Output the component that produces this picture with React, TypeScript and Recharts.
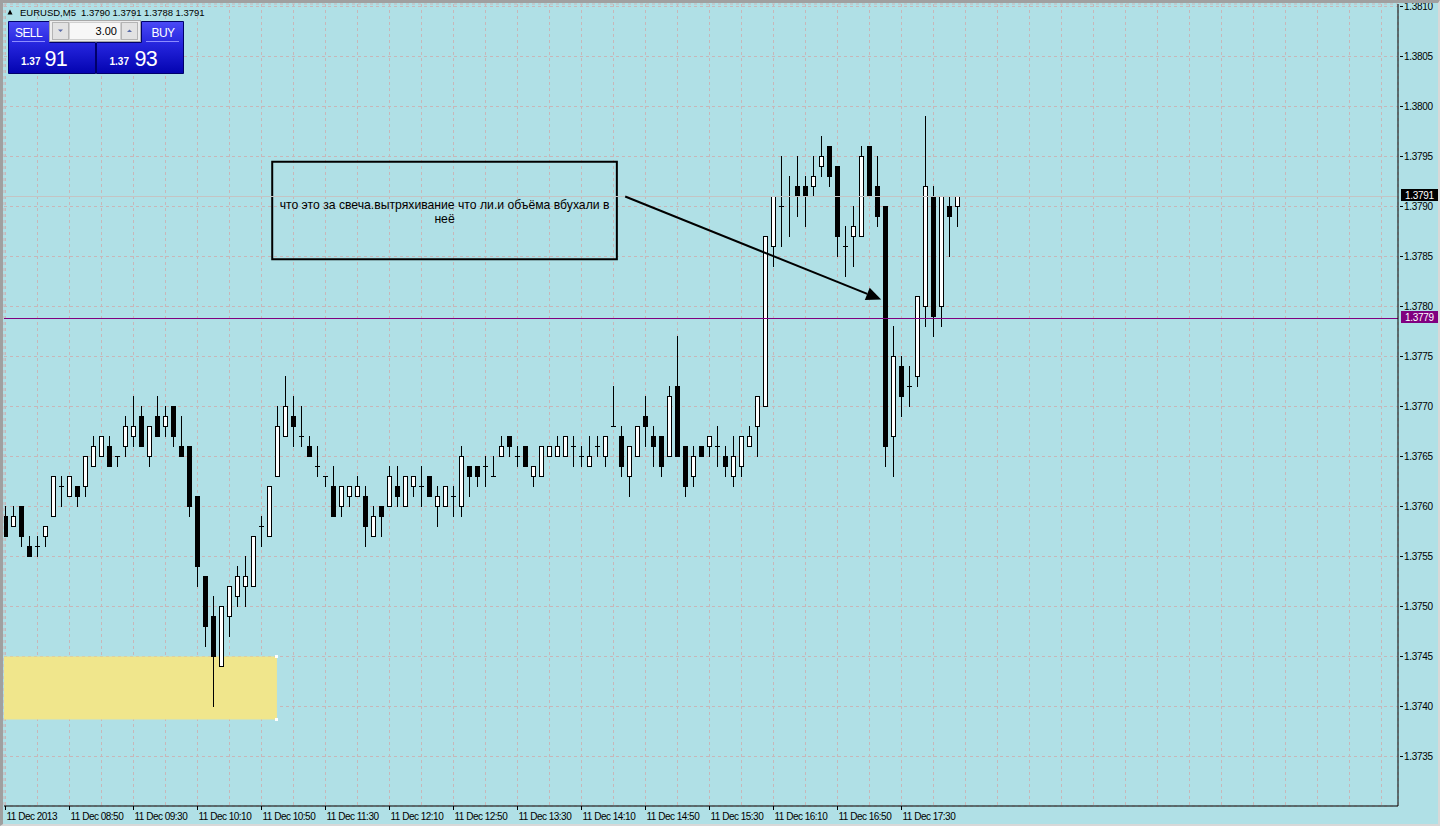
import React from 'react';
import {
  ComposedChart,
  Bar,
  XAxis,
  YAxis,
  CartesianGrid,
  ReferenceLine,
  ReferenceArea,
  ReferenceDot,
} from 'recharts';

// EURUSD M5, 11 Dec 2013, bars from 08:10 onwards
const openPrices = [
  1.3759, 1.3758, 1.376, 1.3756, 1.3756, 1.3757, 1.3759, 1.3762, 1.3761, 1.3762,
  1.3762, 1.3764, 1.3765, 1.3766, 1.3765, 1.3766, 1.3767, 1.3769, 1.3765, 1.3769,
  1.3768, 1.377, 1.3766, 1.3766, 1.3761, 1.3753, 1.3749, 1.3744, 1.3749, 1.3751,
  1.3752, 1.3752, 1.3758, 1.3757, 1.3763, 1.3767, 1.3769, 1.3767, 1.3766, 1.3764,
  1.3763, 1.3762, 1.376, 1.3761, 1.3761, 1.3761, 1.3757, 1.376, 1.376, 1.3762,
  1.376, 1.3762, 1.3762, 1.3763, 1.376, 1.376, 1.3761, 1.376, 1.3764, 1.3764,
  1.3764, 1.3763, 1.3765, 1.3767, 1.3765, 1.3766, 1.3763, 1.3763, 1.3765, 1.3765,
  1.3765, 1.3766, 1.3765, 1.3764, 1.3766, 1.3765, 1.3768, 1.3767, 1.3763, 1.3765,
  1.3769, 1.3767, 1.3767, 1.3765, 1.3772, 1.3766, 1.3763, 1.3766, 1.3766, 1.3766,
  1.3765, 1.3763, 1.3764, 1.3766, 1.3768, 1.377, 1.3786, 1.379, 1.3791, 1.3792,
  1.3792, 1.3792, 1.3794, 1.3796, 1.3794, 1.3786, 1.3787, 1.3787, 1.3796, 1.3792,
  1.379, 1.3767, 1.3774, 1.3772, 1.3773, 1.378, 1.3791, 1.378, 1.379, 1.379,
];

const highPrices = [
  1.376, 1.376, 1.376, 1.3757, 1.3757, 1.3758, 1.3763, 1.3763, 1.3763, 1.3762,
  1.3765, 1.3767, 1.3767, 1.3767, 1.3765, 1.3769, 1.3771, 1.377, 1.3768, 1.3771,
  1.377, 1.377, 1.3769, 1.3766, 1.3761, 1.3753, 1.3751, 1.375, 1.3752, 1.3754,
  1.3755, 1.3757, 1.3759, 1.3762, 1.377, 1.3773, 1.3771, 1.377, 1.3767, 1.3766,
  1.3763, 1.3764, 1.3762, 1.3762, 1.3763, 1.3762, 1.376, 1.376, 1.3764, 1.3764,
  1.3763, 1.3763, 1.3764, 1.3763, 1.3762, 1.3762, 1.3762, 1.3766, 1.3764, 1.3764,
  1.3765, 1.3765, 1.3767, 1.3767, 1.3766, 1.3766, 1.3764, 1.3766, 1.3766, 1.3767,
  1.3767, 1.3767, 1.3766, 1.3767, 1.3767, 1.3767, 1.3772, 1.3768, 1.3766, 1.3768,
  1.3771, 1.3768, 1.3767, 1.3772, 1.3777, 1.3766, 1.3766, 1.3766, 1.3767, 1.3768,
  1.3766, 1.3767, 1.3767, 1.3768, 1.3771, 1.3787, 1.3791, 1.3795, 1.3793, 1.3795,
  1.3793, 1.3795, 1.3797, 1.3796, 1.3794, 1.3788, 1.379, 1.3796, 1.3796, 1.3795,
  1.379, 1.3778, 1.3775, 1.3774, 1.3781, 1.3799, 1.3792, 1.3791, 1.3791, 1.3791,
];

const lowPrices = [
  1.3757, 1.3758, 1.3756, 1.3755, 1.3755, 1.3756, 1.3759, 1.376, 1.3761, 1.376,
  1.3761, 1.3764, 1.3765, 1.3764, 1.3764, 1.3765, 1.3766, 1.3766, 1.3764, 1.3767,
  1.3767, 1.3766, 1.3765, 1.3759, 1.3752, 1.3746, 1.374, 1.3744, 1.3747, 1.375,
  1.375, 1.3752, 1.3756, 1.3757, 1.3763, 1.3767, 1.3766, 1.3766, 1.3765, 1.3763,
  1.3762, 1.3759, 1.3759, 1.376, 1.3761, 1.3756, 1.3757, 1.3757, 1.376, 1.376,
  1.376, 1.3761, 1.376, 1.3761, 1.3758, 1.376, 1.3759, 1.3759, 1.3761, 1.3762,
  1.3762, 1.3763, 1.3765, 1.3765, 1.3764, 1.3764, 1.3762, 1.3763, 1.3765, 1.3765,
  1.3765, 1.3764, 1.3764, 1.3764, 1.3765, 1.3764, 1.3768, 1.3763, 1.3761, 1.3765,
  1.3766, 1.3764, 1.3763, 1.3765, 1.3765, 1.3761, 1.3762, 1.3765, 1.3765, 1.3764,
  1.3763, 1.3762, 1.3763, 1.3766, 1.3765, 1.377, 1.3784, 1.3786, 1.3787, 1.3789,
  1.3788, 1.3791, 1.3793, 1.3792, 1.3785, 1.3783, 1.3784, 1.3787, 1.3791, 1.3788,
  1.3764, 1.3763, 1.3769, 1.377, 1.3772, 1.3778, 1.3777, 1.3778, 1.3785, 1.3788,
];

const closePrices = [
  1.3757, 1.3759, 1.3757, 1.3755, 1.3756, 1.3758, 1.3763, 1.3762, 1.3763, 1.3761,
  1.3765, 1.3766, 1.3767, 1.3764, 1.3765, 1.3768, 1.3768, 1.3766, 1.3768, 1.3767,
  1.3769, 1.3767, 1.3765, 1.376, 1.3754, 1.3748, 1.3745, 1.375, 1.3752, 1.3753,
  1.3753, 1.3757, 1.3758, 1.3762, 1.3768, 1.377, 1.3768, 1.3767, 1.3765, 1.3764,
  1.3763, 1.3759, 1.3762, 1.3762, 1.3762, 1.3758, 1.3759, 1.3759, 1.3763, 1.3761,
  1.3763, 1.3763, 1.3762, 1.3761, 1.3761, 1.3762, 1.3761, 1.3765, 1.3763, 1.3763,
  1.3764, 1.3763, 1.3766, 1.3766, 1.3765, 1.3764, 1.3764, 1.3766, 1.3766, 1.3766,
  1.3767, 1.3766, 1.3765, 1.3765, 1.3766, 1.3767, 1.3768, 1.3764, 1.3766, 1.3768,
  1.3768, 1.3766, 1.3764, 1.3771, 1.3765, 1.3762, 1.3765, 1.3765, 1.3767, 1.3766,
  1.3764, 1.3765, 1.3767, 1.3767, 1.3771, 1.3787, 1.3791, 1.379, 1.3791, 1.3791,
  1.3791, 1.3793, 1.3795, 1.3793, 1.3787, 1.3786, 1.3788, 1.3795, 1.3791, 1.3789,
  1.3766, 1.3775, 1.3771, 1.3772, 1.3781, 1.3792, 1.3779, 1.3791, 1.3789, 1.3791,
];

// one label every 8 bars (40 minutes)
const timeLabels = [
  '11 Dec 2013', '11 Dec 08:50', '11 Dec 09:30', '11 Dec 10:10', '11 Dec 10:50',
  '11 Dec 11:30', '11 Dec 12:10', '11 Dec 12:50', '11 Dec 13:30', '11 Dec 14:10',
  '11 Dec 14:50', '11 Dec 15:30', '11 Dec 16:10', '11 Dec 16:50', '11 Dec 17:30',
];

const priceTicks = [
  1.3735, 1.374, 1.3745, 1.375, 1.3755, 1.376, 1.3765, 1.377, 1.3775, 1.378,
  1.3785, 1.379, 1.3795, 1.38, 1.3805, 1.381,
];

const headerQuotes = ['1.3790', '1.3791', '1.3788', '1.3791'];
const bidPrice = 1.3791;
const levelPrice = 1.37788;

// khaki support zone and the annotation with its arrow
const zoneTop = 1.3745;
const zoneBottom = 1.37387;
const zoneEndBar = 33.93;
const noteLines = ['что это за свеча.вытряхивание что ли.и объёма вбухали в', 'неё'];
const noteLeftBar = 33.34;
const noteRightBar = 76.42;
const noteTop = 1.379447;
const noteBottom = 1.378472;
const arrowFrom = { x: 77.46, y: 1.3791 };
const arrowTo = { x: 109.46, y: 1.37807 };

// 8 px per bar, 10 px per pip
const xDomain: [number, number] = [-0.1875, 174.0625];
const yDomain: [number, number] = [1.373005, 1.381025];
const gridBarTicks = Array.from({ length: 44 }, (_, i) => i * 4);

const candles = openPrices.map((open, i) => ({
  bar: i,
  open,
  high: highPrices[i],
  low: lowPrices[i],
  close: closePrices[i],
  range: [lowPrices[i], highPrices[i]],
}));

const FONT = '"Liberation Sans", Arial, sans-serif';
const BG = '#b0e0e6';

const Candle = (props: any) => {
  const { x, y, width, height, payload } = props;
  if (!payload || x == null || y == null) return <g />;
  const { open, high, low, close } = payload;
  const span = high - low;
  const k = span > 0 ? height / span : 0;
  const py = (v: number) => y + (high - v) * k;
  const snap = (v: number) => Math.floor(py(v) + 0.01) + 0.5;
  const cx = Math.floor(x + width / 2) + 0.5;
  const yH = snap(high);
  const yL = snap(low);
  const top = snap(Math.max(open, close));
  const bot = snap(Math.min(open, close));
  const up = close >= open;
  return (
    <g>
      <line x1={cx} x2={cx} y1={yH - 0.5} y2={yL + 0.5} stroke="#000" strokeWidth={1} />
      {bot - top < 1 ? (
        <line x1={cx - 2.5} x2={cx + 2.5} y1={top} y2={top} stroke="#000" strokeWidth={1} />
      ) : (
        <rect
          x={cx - 2}
          y={top}
          width={4}
          height={bot - top}
          fill={up ? '#ffffff' : '#000000'}
          stroke="#000"
          strokeWidth={1}
        />
      )}
    </g>
  );
};

const PriceTick = (props: any) => {
  const { x, y, payload } = props;
  const ty = Math.floor(y) + 0.5;
  return (
    <g>
      <line x1={x + 2} x2={x + 5} y1={ty} y2={ty} stroke="#000" strokeWidth={1} />
      <text
        x={x + 6}
        y={y}
        dy="0.36em"
        fontSize={10}
        fontFamily={FONT}
        letterSpacing={-0.3}
        fill="#000"
      >
        {Number(payload.value).toFixed(4)}
      </text>
    </g>
  );
};

const TimeTick = (props: any) => {
  const { x, y, payload } = props;
  const k = payload.value;
  const idx = k / 8;
  if (k % 8 !== 0 || idx >= timeLabels.length) return <g />;
  const sx = Math.floor(x) + 0.5;
  return (
    <g>
      <line x1={sx} x2={sx} y1={y} y2={y + 4} stroke="#000" strokeWidth={1} />
      <text
        x={x + 1}
        y={y + 14}
        fontSize={10}
        fontFamily={FONT}
        letterSpacing={-0.5}
        fill="#000"
      >
        {timeLabels[idx]}
      </text>
    </g>
  );
};

const priceTag = (bg: string, value: number) => (props: any) => {
  const vb = props.viewBox || {};
  const yy = vb.y;
  const xx = vb.x + vb.width;
  return (
    <g>
      <rect x={xx + 3} y={Math.floor(yy) - 7} width={37} height={12} fill={bg} />
      <text
        x={xx + 7}
        y={Math.floor(yy) - 1}
        dy="0.36em"
        fontSize={10}
        fontFamily={FONT}
        letterSpacing={-0.3}
        fill="#fff"
      >
        {value.toFixed(4)}
      </text>
    </g>
  );
};

const NoteText = (props: any) => {
  const vb = props.viewBox || {};
  const cx = vb.x + vb.width / 2;
  const cy = vb.y + vb.height / 2;
  return (
    <text x={cx} y={cy} textAnchor="middle" fontSize={12.2} fontFamily={FONT} fill="#000">
      <tspan x={cx} y={cy - 2}>{noteLines[0]}</tspan>
      <tspan x={cx} y={cy + 12}>{noteLines[1]}</tspan>
    </text>
  );
};

const ArrowShape = (props: any) => {
  const { x1, y1, x2, y2 } = props;
  if ([x1, y1, x2, y2].some((v) => v == null || Number.isNaN(v))) return <g />;
  const ang = Math.atan2(y2 - y1, x2 - x1);
  const len = 15;
  const half = 6.5;
  const bx = x2 - len * Math.cos(ang);
  const by = y2 - len * Math.sin(ang);
  const px = -Math.sin(ang) * half;
  const py = Math.cos(ang) * half;
  return (
    <g>
      <line x1={x1} y1={y1} x2={bx} y2={by} stroke="#000" strokeWidth={2} />
      <polygon points={`${x2},${y2} ${bx + px},${by + py} ${bx - px},${by - py}`} fill="#000" />
    </g>
  );
};

const Handle = (props: any) => {
  const { cx, cy } = props;
  return <rect x={Math.floor(cx) - 1} y={Math.floor(cy) - 1} width={3} height={3} fill="#ffffff" />;
};

const Header = () => (
  <div style={{ position: 'absolute', left: 0, top: 0, width: 300, height: 20, pointerEvents: 'none' }}>
    <svg width={300} height={20} style={{ display: 'block' }}>
      <polygon points="7.5,14.5 12.5,14.5 10,9.5" fill="#000" />
      <text x={20} y={16} fontSize={9.5} fontFamily={FONT} fill="#000">EURUSD,M5</text>
      {headerQuotes.map((q, i) => (
        <text key={i} x={81 + i * 31.5} y={16} fontSize={9.5} fontFamily={FONT} fill="#000">
          {q}
        </text>
      ))}
    </svg>
  </div>
);

const TradePanel = () => (
  <div style={{ position: 'absolute', left: 0, top: 0, width: 190, height: 76, pointerEvents: 'none' }}>
    <svg width={190} height={76} style={{ display: 'block' }}>
      <defs>
        <linearGradient id="panelBlue" x1="0" y1="0" x2="0" y2="1">
          <stop offset="0" stopColor="#4a4af6" />
          <stop offset="0.45" stopColor="#2424dc" />
          <stop offset="1" stopColor="#0303b0" />
        </linearGradient>
      </defs>
      <path d="M8.5,21.5 H49.5 V42.5 H95.5 V73.5 H8.5 Z" fill="url(#panelBlue)" stroke="#00006a" />
      <path d="M141.5,21.5 H183.5 V73.5 H96.5 V42.5 H141.5 Z" fill="url(#panelBlue)" stroke="#00006a" />
      <line x1={12} x2={45} y1={41.5} y2={41.5} stroke="#8c8cff" />
      <line x1={146} x2={179} y1={41.5} y2={41.5} stroke="#8c8cff" />
      <text x={15} y={36.5} fontSize={12} fontFamily={FONT} letterSpacing={-0.6} fill="#fff">SELL</text>
      <text x={151.5} y={36.5} fontSize={12} fontFamily={FONT} letterSpacing={-0.6} fill="#fff">BUY</text>
      <rect x={49.5} y={20.5} width={91} height={21} fill="#ececec" stroke="#a8a8a8" />
      <rect x={52.5} y={22.5} width={16} height={17} fill="#e2e2e2" stroke="#b4b4b4" />
      <polygon points="58,29.5 63,29.5 60.5,32" fill="#5a6ca8" />
      <rect x={69.5} y={22.5} width={51} height={17} fill="#f7f7f7" stroke="#d0d0d0" />
      <text x={117} y={34.5} textAnchor="end" fontSize={11} fontFamily={FONT} fill="#000">3.00</text>
      <rect x={121.5} y={22.5} width={16} height={17} fill="#e2e2e2" stroke="#b4b4b4" />
      <polygon points="127,32 132,32 129.5,29.5" fill="#5a6ca8" />
      <text x={21} y={64.5} fontSize={10} fontWeight="bold" fontFamily={FONT} fill="#fff">1.37</text>
      <text x={44.5} y={65.5} fontSize={21.5} fontFamily={FONT} letterSpacing={-0.6} fill="#fff">91</text>
      <text x={109.5} y={64.5} fontSize={10} fontWeight="bold" fontFamily={FONT} fill="#fff">1.37</text>
      <text x={134.5} y={65.5} fontSize={21.5} fontFamily={FONT} letterSpacing={-0.6} fill="#fff">93</text>
    </svg>
  </div>
);

export default function App() {
  return (
    <div
      style={{
        position: 'absolute',
        left: 0,
        top: 0,
        width: 1440,
        height: 826,
        background: BG,
        overflow: 'hidden',
        fontFamily: FONT,
      }}
    >
      <ComposedChart
        width={1440}
        height={826}
        data={candles}
        margin={{ top: 4, right: 0, bottom: 0, left: 4 }}
      >
        <CartesianGrid stroke="#c8b6b8" strokeDasharray="3 3" />
        <XAxis
          dataKey="bar"
          type="number"
          domain={xDomain}
          allowDataOverflow
          ticks={gridBarTicks}
          interval={0}
          height={20}
          tickSize={0}
          tickMargin={0}
          tickLine={false}
          axisLine={{ stroke: '#000' }}
          tick={TimeTick}
        />
        <YAxis
          orientation="right"
          type="number"
          domain={yDomain}
          allowDataOverflow
          ticks={priceTicks}
          interval={0}
          width={42}
          tickSize={0}
          tickMargin={0}
          tickLine={false}
          axisLine={{ stroke: '#000' }}
          tick={PriceTick}
        />
        <ReferenceArea
          x1={xDomain[0]}
          x2={zoneEndBar}
          y1={zoneBottom}
          y2={zoneTop}
          fill="#f0e68c"
          fillOpacity={1}
          stroke="none"
        />
        <ReferenceDot x={zoneEndBar} y={zoneTop} r={2} shape={Handle} />
        <ReferenceDot x={zoneEndBar} y={zoneBottom} r={2} shape={Handle} />
        <ReferenceLine y={bidPrice} stroke="#c4c4c4" strokeWidth={1} label={priceTag('#000000', bidPrice)} />
        <Bar dataKey="range" barSize={5} shape={Candle} isAnimationActive={false} />
        <ReferenceLine y={levelPrice} stroke="#800080" strokeWidth={1} label={priceTag('#800080', levelPrice)} />
        <ReferenceArea
          x1={noteLeftBar}
          x2={noteRightBar}
          y1={noteBottom}
          y2={noteTop}
          fill="none"
          stroke="#000"
          strokeWidth={2}
          label={NoteText}
        />
        <ReferenceLine segment={[arrowFrom, arrowTo]} shape={ArrowShape} />
      </ComposedChart>
      <Header />
      <TradePanel />
      <div
        style={{
          position: 'absolute',
          left: 0,
          top: 0,
          width: 1440,
          height: 826,
          boxSizing: 'border-box',
          borderStyle: 'solid',
          borderWidth: '3px 2px 2px 3px',
          borderColor: '#a0a0a0 #d8d8d8 #d8d8d8 #a0a0a0',
          pointerEvents: 'none',
        }}
      />
    </div>
  );
}
